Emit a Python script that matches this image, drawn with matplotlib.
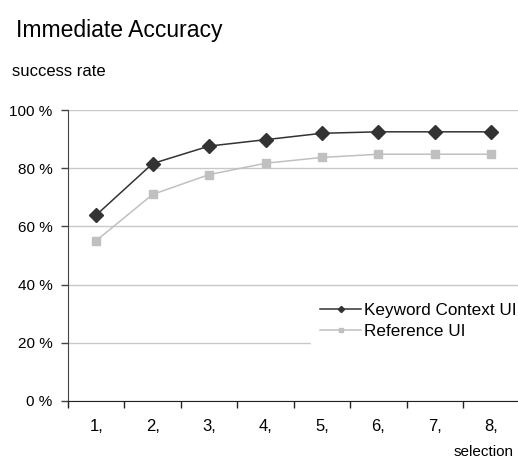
import matplotlib
matplotlib.use("Agg")
import matplotlib.pyplot as plt
import numpy as np

plt.rcParams['font.family'] = ['Liberation Sans', 'DejaVu Sans']

# data
selections = ["1,", "2,", "3,", "4,", "5,", "6,", "7,", "8,"]
keyword_ui = [63.9, 81.6, 87.6, 89.8, 92.0, 92.5, 92.5, 92.5]
reference_ui = [55.1, 71.0, 77.8, 81.7, 83.7, 84.8, 84.8, 84.8]
y_ticks = [0, 20, 40, 60, 80, 100]
y_labels = ["0 %", "20 %", "40 %", "60 %", "80 %", "100 %"]

fig = plt.figure(figsize=(5.18, 4.59), dpi=100)
ax = fig.add_axes([68 / 518, 58 / 459, 451.5 / 518, 291 / 459])

x = np.arange(len(selections))
ax.plot(x, keyword_ui, color='#333333', lw=1.1, marker='D', ms=7,
        label='Keyword Context UI', zorder=3)
ax.plot(x, reference_ui, color='#c0c0c0', lw=1.1, marker='s', ms=6,
        label='Reference UI', zorder=3)

ax.set_xlim(-0.5, len(selections) - 0.5)
ax.set_ylim(0, 100)

# ticks on category borders, labels in the middle
ax.set_xticks(np.arange(len(selections) + 1) - 0.5)
ax.set_xticklabels([])
ax.set_xticks(x, minor=True)
ax.set_xticklabels(selections, minor=True, fontsize=12)
ax.tick_params(axis='x', which='major', direction='out', length=5, width=1, color='#222222')
ax.tick_params(axis='x', which='minor', length=0, pad=13)

ax.set_yticks(y_ticks)
ax.set_yticklabels(y_labels, fontsize=11)
ax.tick_params(axis='y', direction='out', length=5, width=1, color='#444444', pad=6)

ax.yaxis.grid(True, color='#c8c8c8', lw=1)
ax.set_axisbelow(True)
for s in ['top', 'right']:
    ax.spines[s].set_visible(False)
ax.spines['left'].set_color('#444444')
ax.spines['bottom'].set_color('#222222')

fig.text(16 / 518, 1 - 30 / 459, "Immediate Accuracy", fontsize=16.5, va='center', ha='left')
fig.text(12 / 518, 1 - 72 / 459, "success rate", fontsize=12, va='center', ha='left')
fig.text(514 / 518, 1 - 452 / 459, "selection", fontsize=11, va='center', ha='right')

leg = ax.legend(loc='upper left', bbox_to_anchor=(311 / 518, 1 - 294 / 459),
                bbox_transform=fig.transFigure, fontsize=12.3, frameon=True,
                framealpha=1, edgecolor='white', fancybox=False,
                handlelength=2.4, handletextpad=0.17, labelspacing=0.35,
                borderpad=0.55, borderaxespad=0, markerscale=0.45)

fig.savefig("out.png", dpi=100)
